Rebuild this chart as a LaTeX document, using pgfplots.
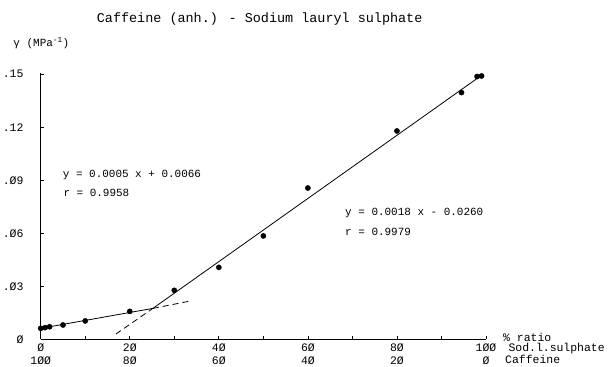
\documentclass[border=0pt]{standalone}
\usepackage{fontspec}
\setmainfont{Liberation Mono}
\usepackage{pgfplots}
\usepackage{pgfplotstable}
\pgfplotsset{compat=1.18}

% gamma vs. % ratio of sodium lauryl sulphate in the caffeine mixture
\pgfplotstableread{
x     y
0     0.0062
1     0.0066
2     0.0071
5     0.0081
10    0.0104
20    0.0158
30    0.0277
40    0.0407
50    0.0585
60    0.0856
80    0.1179
94.5  0.1396
98    0.1487
99    0.1490
}\ratiodata

\newcommand{\two}[2]{\begin{tabular}[t]{@{}c@{}}#1\\#2\end{tabular}}

\begin{document}
\begin{tikzpicture}
\path[use as bounding box] (-40.7bp,-27.7bp) rectangle (570.3bp,339.3bp);
\begin{axis}[
  at={(0,0)}, anchor=south west,
  scale only axis, width=445.3bp, height=266.5bp,
  xmin=0, xmax=100, ymin=0, ymax=0.1508,
  axis x line*=bottom, axis y line*=left,
  axis line style={-, black, line width=0.8bp},
  tick align=inside, major tick length=3bp,
  tick style={black, line width=0.7bp},
  xtick={0,10,...,100},
  xticklabels={\two{Ø}{1ØØ},,\two{2Ø}{8Ø},,\two{4Ø}{6Ø},,\two{6Ø}{4Ø},,\two{8Ø}{2Ø},,\two{1ØØ}{Ø}},
  xticklabel style={anchor=base, inner sep=0pt, yshift=-12.4bp, font=\fontsize{11.5}{13}\selectfont},
  ytick={0,0.03,0.06,0.09,0.12,0.15},
  yticklabels={Ø,.Ø3,.Ø6,.Ø9,.12,.15},
  yticklabel style={anchor=east, inner sep=0pt, xshift=-17bp, font=\fontsize{11.5}{13}\selectfont},
  clip=false,
]
\addplot[only marks, mark=*, mark size=2.6bp, black] table {\ratiodata};
% fitted lines
\addplot[black, line width=0.8bp] coordinates {(0,0.0062) (25.2,0.0175) (99.4,0.1501)};
\addplot[black, line width=0.8bp, dash pattern=on 6bp off 4bp] coordinates {(25.2,0.0175) (33.9,0.0218)};
\addplot[black, line width=0.8bp, dash pattern=on 6bp off 4bp] coordinates {(16.9,0.0030) (25.2,0.0175)};
\end{axis}

\node[anchor=base west, inner sep=0pt, font=\fontsize{13.5}{15}\selectfont] at (56bp,317bp) {Caffeine (anh.) - Sodium lauryl sulphate};
\node[anchor=base west, inner sep=0pt, font=\fontsize{11}{13}\selectfont] at (-27.4bp,292.6bp) {γ (MPa\textsuperscript{-1})};

\begin{scope}[every node/.style={anchor=west, inner sep=0pt, font=\fontsize{11}{13}\selectfont}]
\node at (22bp,164.3bp) {y = 0.0005 x + 0.0066};
\node at (22.6bp,146.6bp) {r = 0.9958};
\node at (304.3bp,126.6bp) {y = 0.0018 x - 0.0260};
\node at (304.3bp,107.6bp) {r = 0.9979};
\end{scope}

\begin{scope}[every node/.style={anchor=base west, inner sep=0pt, font=\fontsize{11.5}{13}\selectfont}]
\node at (462.3bp,-2.4bp) {\% ratio};
\node at (467.6bp,-12.4bp) {Sod.l.sulphate};
\node at (464.3bp,-24bp) {Caffeine};
\end{scope}
\end{tikzpicture}
\end{document}
